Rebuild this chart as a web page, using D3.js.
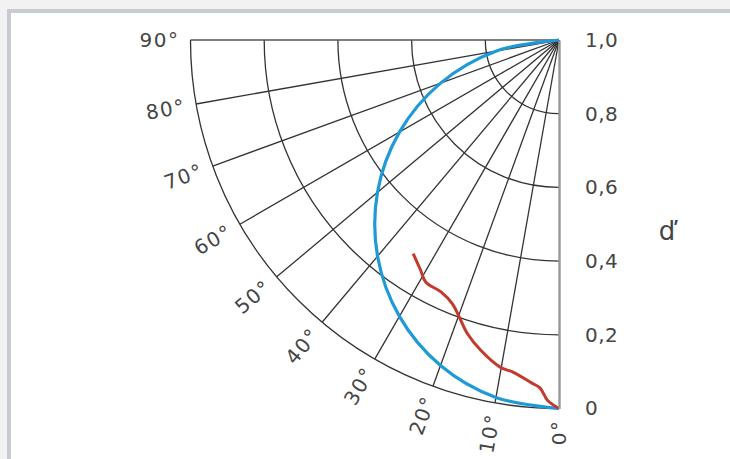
<!DOCTYPE html>
<html>
<head>
<meta charset="utf-8">
<script src="https://cdn.jsdelivr.net/npm/d3@7"></script>
<style>
  body { margin: 0; background: #f2f2f2; }
  svg text { font-family: "DejaVu Sans", sans-serif; fill: #454545; }
</style>
</head>
<body>
<svg id="chart" width="730" height="459"></svg>
<script>
// angle spokes (degrees from the vertical) and radial levels
const spokeAngles = [0, 10, 20, 30, 40, 50, 60, 70, 80, 90];
const arcLevels = [0, 0.2, 0.4, 0.6, 0.8];
const axisTicks = [0, 0.2, 0.4, 0.6, 0.8, 1.0];

// blue curve (diffuse reference)
const blueAngle = [0, 10, 20, 30, 40, 50, 60, 70, 80, 90];
const blueValue = [0, 0.015, 0.06, 0.134, 0.234, 0.357, 0.5, 0.658, 0.826, 1.0];

// red curve (measured)
const redAngle = [0, 1.8, 3.1, 4.5, 7.9, 10.2, 14.1, 17.3, 19.8, 22.0, 25.1, 28.8, 31.0, 34.3];
const redValue = [0, 0.021, 0.054, 0.066, 0.090, 0.098, 0.131, 0.165, 0.201, 0.228, 0.245, 0.250, 0.271, 0.298];

const svg = d3.select('#chart');
svg.append('rect')
    .attr('x', 9).attr('y', 11).attr('width', 740).attr('height', 470)
    .attr('fill', '#fff').attr('stroke', '#c6ccd2').attr('stroke-width', 4);

const cx = 559, cy = 40, R = 368.5;
const g = svg.append('g').attr('transform', `translate(${cx},${cy})`);

// value 1 sits at the centre, 0 on the outer arc
const r = d3.scaleLinear().domain([1, 0]).range([0, R]);
// degrees -> d3 radial angle (0 = down, 90 = left)
const a = d3.scaleLinear().domain([0, 90]).range([Math.PI, 1.5 * Math.PI]);
const y = d3.scaleLinear().domain([1, 0]).range([cy, cy + R]);

// arcs
g.append('g').selectAll('path').data(arcLevels).join('path')
    .attr('d', v => { const p = d3.path(); p.arc(0, 0, r(v), Math.PI / 2, Math.PI); return p.toString(); })
    .attr('fill', 'none').attr('stroke', '#333').attr('stroke-width', 1.3);

// spokes
g.append('g').selectAll('line').data(spokeAngles.filter(d => d > 0)).join('line')
    .attr('x1', 0).attr('y1', 0)
    .attr('x2', d => r(0) * Math.sin(a(d)))
    .attr('y2', d => -r(0) * Math.cos(a(d)))
    .attr('stroke', d => d === 90 ? '#555' : '#333').attr('stroke-width', d => d === 90 ? 1.6 : 1.3);

// angle labels
g.append('g').selectAll('text').data(spokeAngles).join('text')
    .attr('transform', d => {
        const rr = r(0) + 11;
        return `translate(${rr * Math.sin(a(d))},${-rr * Math.cos(a(d))}) rotate(${d - 90})`;
    })
    .attr('text-anchor', 'end').attr('dominant-baseline', 'central')
    .style('font-size', '20px').style('letter-spacing', '1.5px')
    .text(d => d + '°');

// right axis (0° spoke)
const axis = svg.append('g').attr('transform', `translate(${cx},0)`)
    .call(d3.axisRight(y).tickValues(axisTicks).tickSize(0).tickPadding(26)
        .tickFormat(v => d3.format('.1f')(v).replace('.', ',').replace(/^0,0$/, '0')));
axis.select('.domain').attr('stroke', '#999').attr('stroke-width', 2.4);
axis.selectAll('text').attr('fill', '#454545').style('font-size', '20px')
    .style('letter-spacing', '0.5px').attr('font-family', null);

svg.append('text').attr('x', 667).attr('y', 231)
    .attr('text-anchor', 'middle').attr('dominant-baseline', 'central')
    .style('font-size', '26px').text('ď');

const radial = d3.lineRadial().curve(d3.curveCatmullRom);

g.append('path')
    .attr('d', radial(blueAngle.map((d, i) => [a(d), r(blueValue[i])])))
    .attr('fill', 'none').attr('stroke', '#1f9ad6').attr('stroke-width', 3.2);

g.append('path')
    .attr('d', radial(redAngle.map((d, i) => [a(d), r(redValue[i])])))
    .attr('fill', 'none').attr('stroke', '#c23a2c').attr('stroke-width', 3);
</script>
</body>
</html>
